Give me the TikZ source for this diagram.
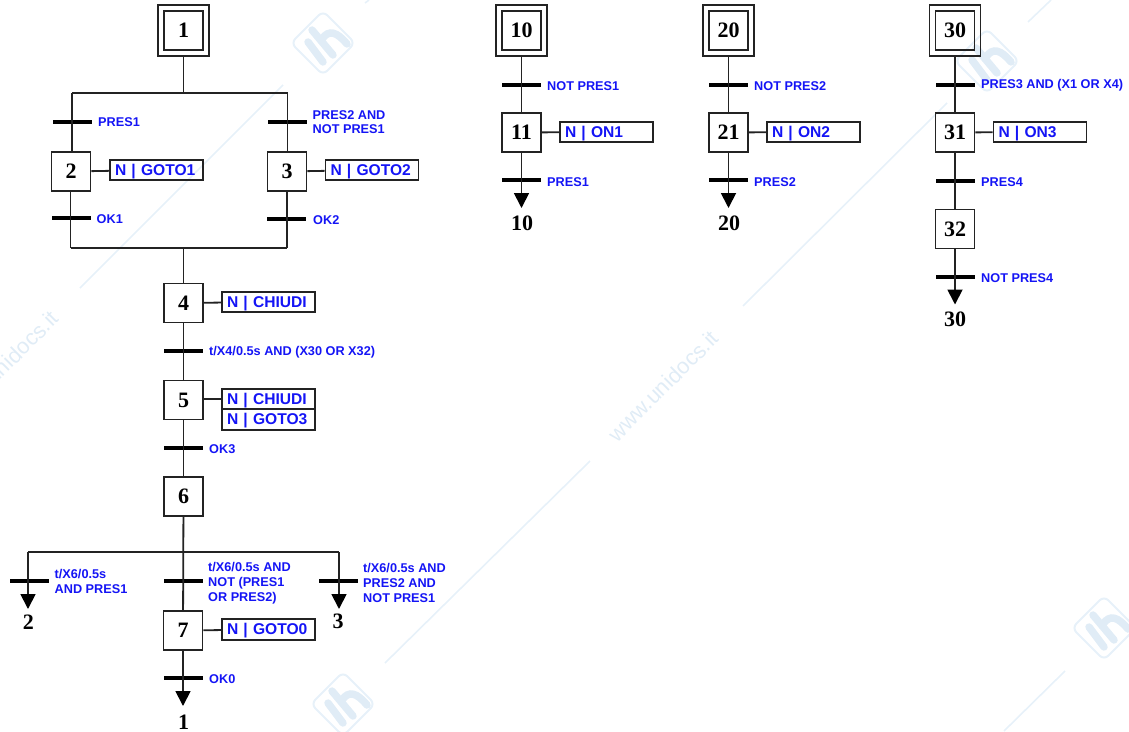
\documentclass[tikz,border=0pt]{standalone}
\usepackage{fontspec}
\setmainfont{Liberation Serif}
\setsansfont{Liberation Sans}
\usetikzlibrary{arrows.meta}
\definecolor{gblue}{RGB}{20,20,245}
\definecolor{gink}{RGB}{35,35,35}
\definecolor{wmline}{RGB}{231,241,249}
\definecolor{wmfill}{RGB}{224,236,246}
\newcommand{\wmlogo}[2]{%
  \begin{scope}[shift={(#1,#2)}]
    \draw[wmline,line width=2pt,rounded corners=6pt]
      (-32,0) -- (0,-32) -- (32,0) -- (0,32) -- cycle;
    \draw[wmfill,line width=7.5pt,line cap=round] (-15,-1) -- (0,19);
    \draw[wmfill,line width=7.5pt,line cap=round] (-11,-13) -- (10,12);
    \draw[wmfill,line width=7.5pt,line cap=round] (-1,-4) .. controls (6,-14) and (14,-11) .. (24,1);
  \end{scope}}
\tikzset{
  x=1pt,y=-1pt,
  wm/.style={wmline,line width=1.6pt},
  wmtext/.style={text=wmfill,font=\sffamily\fontsize{22}{24}\selectfont,rotate=45,inner sep=0pt},
  stepbox/.style={draw=gink,line width=1.8pt,minimum width=39pt,minimum height=39pt,inner sep=0pt,
    font=\rmfamily\bfseries\fontsize{22}{24}\selectfont},
  initbox/.style={draw=gink,line width=1.8pt,minimum width=51pt,minimum height=51pt,inner sep=0pt},
  trans/.style={fill=black,minimum width=39pt,minimum height=4pt,inner sep=0pt},
  cond/.style={anchor=west,inner sep=0pt,align=left,text=gblue,yshift=-0.7pt,
    font=\sffamily\bfseries\fontsize{12.7}{14.8}\selectfont},
  act/.style={draw=gink,line width=1.8pt,minimum height=20.5pt,inner ysep=0pt,inner xsep=5pt,
    text width=83pt,align=left,text=gblue,text height=11pt,text depth=1pt,
    font=\sffamily\bfseries\fontsize{15.6}{16}\selectfont},
  num/.style={inner sep=0pt,font=\rmfamily\bfseries\fontsize{22}{24}\selectfont},
  wire/.style={draw=gink,line width=1.8pt},
  goto/.style={wire,-{Triangle[length=15pt,width=15pt,color=black]},shorten >=0pt},
}
\begin{document}
\begin{tikzpicture}
\useasboundingbox (0,0) rectangle (1129,731);
% watermark
\draw[wm] (80,288) -- (283,85);
\draw[wm] (365,3) -- (369,0);
\draw[wm] (385,663) -- (590,461);
\draw[wm] (743,306) -- (947,103);
\draw[wm] (1028,22) -- (1051,0);
\draw[wm] (1065,671) -- (1004,731);
\wmlogo{323}{43}
\wmlogo{987}{61}
\wmlogo{1104}{628}
\wmlogo{343}{704}
\node[wmtext] (wm1) at (663,386) {www.unidocs.it};
\node[wmtext] (wm2) at (3,366) {www.unidocs.it};

% ---- main sequence
\node[initbox] (s1o) at (183.5,30.5) {};
\node[stepbox] (s1) at (183.5,30.5) {1};
\coordinate (jt) at (183.5,93);
\coordinate (jtl) at (72,93);
\coordinate (jtr) at (287.5,93);
\node[trans] (t1) at (72.5,122) {};
\node[trans] (t2) at (287.5,122) {};
\node[cond] (c1) at (98,121) {PRES1};
\node[cond] (c2) at (312.5,121.5) {PRES2 AND\\NOT PRES1};
\node[stepbox] (s2) at (71,171.5) {2};
\node[stepbox] (s3) at (287,171.5) {3};
\node[act,minimum width=93pt] (a2) at (156.5,170) {N | GOTO1};
\node[act,minimum width=93pt] (a3) at (372,170) {N | GOTO2};
\node[trans] (t3) at (71.5,218) {};
\node[trans] (t4) at (286.5,219) {};
\node[cond] (c3) at (96.5,218.5) {OK1};
\node[cond] (c4) at (313,219.5) {OK2};
\coordinate (jbl) at (70.5,248);
\coordinate (jbr) at (287,248);
\coordinate (jb) at (183.5,248);
\node[stepbox] (s4) at (183.5,303) {4};
\node[act,minimum width=93pt] (a4) at (268.5,302) {N | CHIUDI};
\node[trans] (t5) at (183.5,351) {};
\node[cond] (c5) at (209,351.5) {t/X4/0.5s AND (X30 OR X32)};
\node[stepbox] (s5) at (183.5,400) {5};
\node[act,minimum width=93pt] (a5) at (268.5,399) {N | CHIUDI};
\node[act,minimum width=93pt] (a6) at (268.5,419.5) {N | GOTO3};
\node[trans] (t6) at (183.5,448) {};
\node[cond] (c6) at (209,448.5) {OK3};
\node[stepbox] (s6) at (183.5,496.5) {6};
\coordinate (jd) at (183.5,552);
\coordinate (jdl) at (28,552);
\coordinate (jdr) at (339,552);
\node[trans] (t7) at (29.5,581) {};
\node[trans] (t8) at (183.5,581) {};
\node[trans] (t9) at (338.5,581) {};
\node[cond] (c7) at (54.5,580.5) {t/X6/0.5s\\AND PRES1};
\node[cond] (c8) at (208,582.5) {t/X6/0.5s AND\\NOT (PRES1\\OR PRES2)};
\node[cond] (c9) at (363,582) {t/X6/0.5s AND\\PRES2 AND\\NOT PRES1};
\node[num] (n2) at (28.5,622) {2};
\node[num] (n3) at (338,621.5) {3};
\coordinate (g2) at (28,609);
\coordinate (g3) at (339,609);
\node[stepbox] (s7) at (183,630.5) {7};
\node[act,minimum width=93pt] (a7) at (268.5,629.5) {N | GOTO0};
\node[trans] (t10) at (183.5,678) {};
\node[cond] (c10) at (209,678.5) {OK0};
\coordinate (g1) at (183,706);
\node[num] (n1) at (183.5,722) {1};

\draw[wire] (s1o) -- (jt);
\draw[wire] (jtl) -- (jtr);
\draw[wire] (jtl) -- (jtl |- s2.north);
\draw[wire] (jtr) -- (jtr |- s3.north);
\draw[wire] (s2) -- (a2);
\draw[wire] (s3) -- (a3);
\draw[wire] (jbl |- s2.south) -- (jbl);
\draw[wire] (jbr |- s3.south) -- (jbr);
\draw[wire] (jbl) -- (jbr);
\draw[wire] (jb) -- (s4);
\draw[wire] (s4) -- (a4);
\draw[wire] (s4) -- (s5);
\draw[wire] (s5.east |- a5) -- (a5);
\draw[wire] (s5) -- (s6);
\draw[wire] (s6) -- (s7);
\draw[wire] (jdl) -- (jdr);
\draw[goto] (jdl) -- (g2);
\draw[goto] (jdr) -- (g3);
\draw[wire] (s7) -- (a7);
\draw[goto] (s7) -- (g1);

% ---- sequence 10
\node[initbox] (s10o) at (521.5,30.5) {};
\node[stepbox] (s10) at (521.5,30.5) {10};
\node[trans] (t11) at (521.5,85) {};
\node[cond] (c11) at (547,85) {NOT PRES1};
\node[stepbox] (s11) at (521.5,132.5) {11};
\node[act,minimum width=93pt] (a11) at (606.5,132) {N | ON1};
\node[trans] (t12) at (521.5,180) {};
\node[cond] (c12) at (547,181.5) {PRES1};
\coordinate (g10) at (521.5,208);
\node[num] (n10) at (522,223.5) {10};
\draw[wire] (s10o) -- (s11);
\draw[wire] (s11) -- (a11);
\draw[goto] (s11) -- (g10);

% ---- sequence 20
\node[initbox] (s20o) at (728.5,30.5) {};
\node[stepbox] (s20) at (728.5,30.5) {20};
\node[trans] (t21) at (728.5,85) {};
\node[cond] (c21) at (754,85) {NOT PRES2};
\node[stepbox] (s21) at (728.5,132.5) {21};
\node[act,minimum width=93pt] (a21) at (813.5,132) {N | ON2};
\node[trans] (t22) at (728.5,180) {};
\node[cond] (c22) at (754,181.5) {PRES2};
\coordinate (g20) at (728.5,208);
\node[num] (n20) at (729,223.5) {20};
\draw[wire] (s20o) -- (s21);
\draw[wire] (s21) -- (a21);
\draw[goto] (s21) -- (g20);

% ---- sequence 30
\node[initbox] (s30o) at (955,30.5) {};
\node[stepbox] (s30) at (955,30.5) {30};
\node[trans] (t31) at (955,85) {};
\node[cond] (c31) at (981,85) {PRES3 AND (X1 OR X4)};
\node[stepbox] (s31) at (955,132.5) {31};
\node[act,minimum width=93pt] (a31) at (1040,132) {N | ON3};
\node[trans] (t32) at (955,181) {};
\node[cond] (c32) at (981,181.5) {PRES4};
\node[stepbox] (s32) at (955,229) {32};
\node[trans] (t33) at (955,277) {};
\node[cond] (c33) at (981,277.5) {NOT PRES4};
\coordinate (g30) at (955,304.5);
\node[num] (n30) at (955,319.5) {30};
\draw[wire] (s30o) -- (s31);
\draw[wire] (s31) -- (a31);
\draw[wire] (s31) -- (s32);
\draw[goto] (s32) -- (g30);
\end{tikzpicture}
\end{document}
